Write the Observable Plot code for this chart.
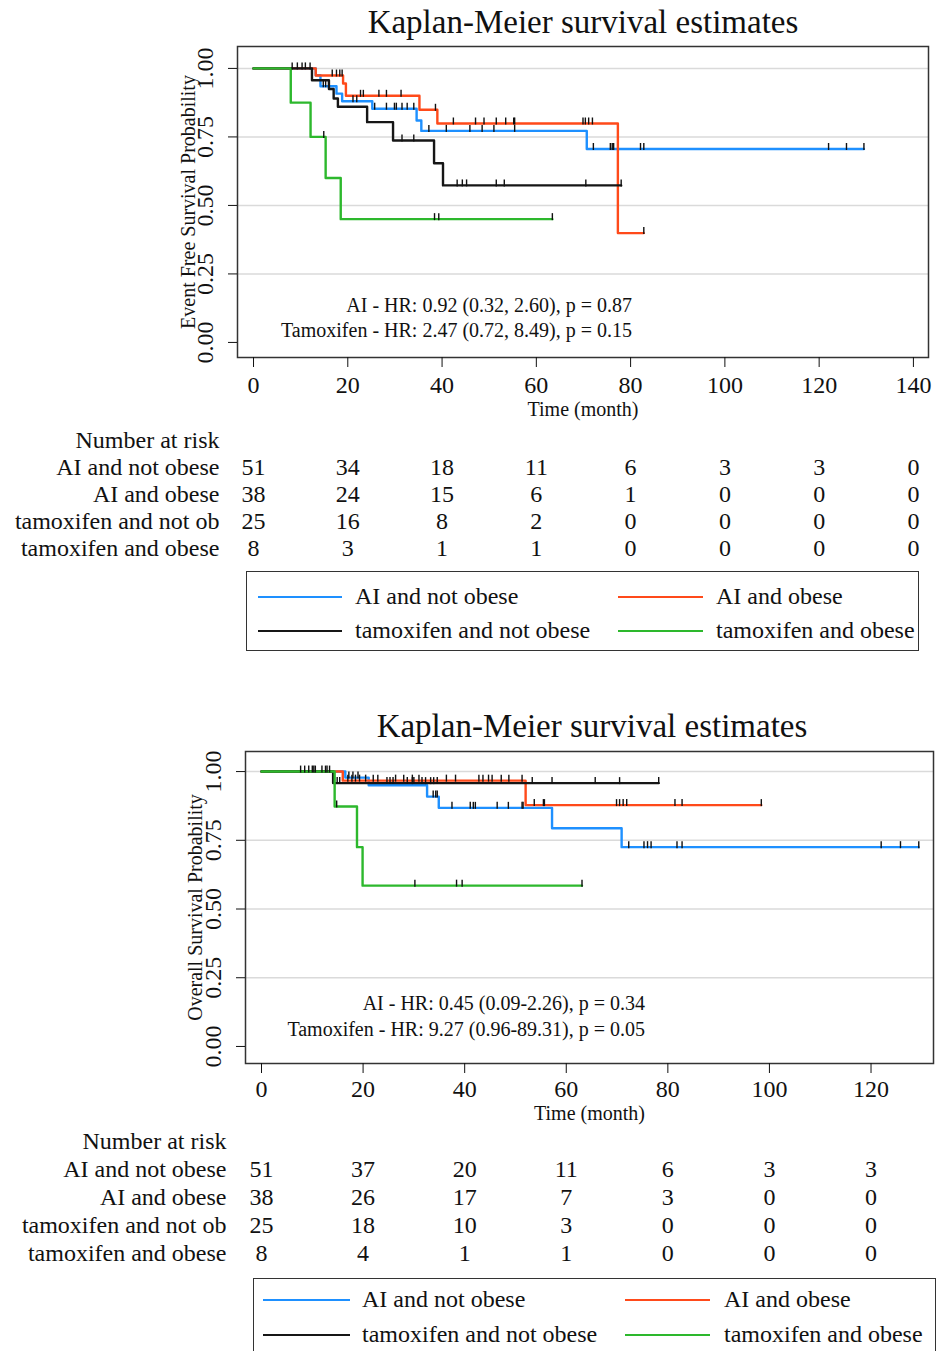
<!DOCTYPE html>
<html><head><meta charset="utf-8">
<script src="https://cdn.jsdelivr.net/npm/d3@7"></script>
<script src="https://cdn.jsdelivr.net/npm/@observablehq/plot@0.6"></script>
<style>
html,body{margin:0;padding:0;background:#fff;}
body{width:937px;height:1351px;overflow:hidden;position:relative;font-family:"Liberation Serif","Times New Roman",serif;color:#111;}
.title{position:absolute;font-size:33px;line-height:36px;text-align:center;white-space:nowrap;}
.note{position:absolute;font-size:20px;text-align:right;white-space:nowrap;}
.legend{position:absolute;border:1.5px solid #333;box-sizing:border-box;}
.legend .sw{position:absolute;height:0;border-top:2px solid;}
.legend .lb{position:absolute;font-size:24px;white-space:nowrap;line-height:28px;}
svg{position:absolute;}
</style></head><body>
<script>
// ---------------- data ----------------
const groups = ["AI and not obese", "AI and obese", "tamoxifen and not obese", "tamoxifen and obese"];
const riskLabels = ["AI and not obese", "AI and obese", "tamoxifen and not ob", "tamoxifen and obese"];
const colors = ["#1e90ff", "#ff4a1a", "#161616", "#2db82d"];

// Event free survival (top) — step times, survival values, end of follow-up, censor times
const efsBlueT = [0, 13.2, 14.2, 17.6, 18.8, 25.2, 34.6, 35.6, 70.7];
const efsBlueS = [1, 0.975, 0.935, 0.908, 0.880, 0.853, 0.810, 0.772, 0.706];
const efsBlueEnd = 129.5;
const efsBlueC = [14.8, 15.3, 21.1, 21.9, 25.7, 28.2, 29.9, 30.3, 31.5, 32.6, 34.0, 37.2, 40.9, 45.9, 48.5, 51.0, 55.4, 72.1, 75.7, 76.1, 76.4, 82.1, 82.8, 122.0, 125.8, 129.5];

const efsRedT = [0, 13.2, 19.0, 19.6, 35.2, 39.0, 77.3];
const efsRedS = [1, 0.974, 0.945, 0.900, 0.849, 0.799, 0.399];
const efsRedEnd = 82.8;
const efsRedC = [16.7, 17.6, 18.3, 18.8, 22.7, 23.3, 26.6, 28.2, 31.3, 38.6, 42.4, 47.1, 48.9, 51.5, 53.5, 55.2, 55.4, 69.9, 70.4, 71.1, 71.9, 82.8];

const efsBlackT = [0, 12.4, 16.0, 17.0, 17.9, 24.1, 29.6, 38.3, 40.2];
const efsBlackS = [1, 0.957, 0.925, 0.890, 0.860, 0.804, 0.737, 0.654, 0.573];
const efsBlackEnd = 78.0;
const efsBlackC = [8.2, 9.3, 10.3, 11.0, 12.0, 31.5, 34.0, 43.2, 44.3, 45.2, 51.5, 53.2, 70.5, 78.0];

const efsGreenT = [0, 7.9, 12.1, 15.3, 18.5];
const efsGreenS = [1, 0.875, 0.750, 0.600, 0.450];
const efsGreenEnd = 63.4;
const efsGreenC = [14.9, 38.4, 39.3, 63.4];

// Overall survival (bottom)
const osBlueT = [0, 16.5, 21.1, 32.6, 34.9, 57.2, 70.9];
const osBlueS = [1, 0.978, 0.950, 0.909, 0.868, 0.794, 0.725];
const osBlueEnd = 129.4;
const osBlueC = [17.2, 18.0, 19.0, 33.8, 34.3, 34.6, 37.5, 41.1, 41.7, 42.1, 46.4, 48.6, 51.3, 51.5, 72.3, 75.3, 76.0, 76.7, 81.8, 82.8, 122.0, 125.8, 129.4];

const osRedT = [0, 16.0, 52.0];
const osRedS = [1, 0.967, 0.878];
const osRedEnd = 98.4;
const osRedC = [17.0, 17.8, 18.5, 19.3, 20.5, 22.0, 22.9, 26.4, 28.0, 29.7, 31.0, 36.4, 38.2, 42.8, 43.6, 44.7, 45.4, 47.2, 48.7, 51.3, 53.7, 55.5, 55.7, 69.9, 70.5, 71.2, 71.9, 81.4, 82.8, 98.4];

const osBlackT = [0, 14.1];
const osBlackS = [1, 0.958];
const osBlackEnd = 78.2;
const osBlackC = [7.7, 8.5, 9.3, 10.0, 10.3, 10.6, 11.9, 12.6, 12.9, 13.4, 14.9, 15.4, 24.7, 25.3, 25.9, 28.7, 29.7, 30.0, 31.6, 32.3, 33.3, 33.9, 34.6, 53.3, 57.2, 65.7, 70.5, 78.2];

const osGreenT = [0, 14.4, 18.8, 19.9];
const osGreenS = [1, 0.873, 0.725, 0.585];
const osGreenEnd = 63.1;
const osGreenC = [14.8, 30.2, 38.4, 39.5, 63.1];

// Number at risk
const efsRiskTimes = [0, 20, 40, 60, 80, 100, 120, 140];
const efsRiskBlue = [51, 34, 18, 11, 6, 3, 3, 0];
const efsRiskRed = [38, 24, 15, 6, 1, 0, 0, 0];
const efsRiskBlack = [25, 16, 8, 2, 0, 0, 0, 0];
const efsRiskGreen = [8, 3, 1, 1, 0, 0, 0, 0];

const osRiskTimes = [0, 20, 40, 60, 80, 100, 120];
const osRiskBlue = [51, 37, 20, 11, 6, 3, 3];
const osRiskRed = [38, 26, 17, 7, 3, 0, 0];
const osRiskBlack = [25, 18, 10, 3, 0, 0, 0];
const osRiskGreen = [8, 4, 1, 1, 0, 0, 0];

const efsXTicks = [0, 20, 40, 60, 80, 100, 120, 140];
const osXTicks = [0, 20, 40, 60, 80, 100, 120];
const yTicks = [0, 0.25, 0.5, 0.75, 1];
const gridTicks = [0.25, 0.5, 0.75, 1];

// ---------------- helpers ----------------
function curve(T, S, end, group) {
  const pts = T.map((t, i) => ({t, s: S[i], group}));
  pts.push({t: end, s: S[S.length - 1], group});
  return pts;
}
function survAt(T, S, t) {
  let s = S[0];
  for (let i = 0; i < T.length; i++) if (T[i] <= t) s = S[i];
  return s;
}
function cens(T, S, C, group) { return C.map(t => ({t, s: survAt(T, S, t), group})); }

const censorSymbol = {
  draw(ctx) { ctx.moveTo(0, -6); ctx.lineTo(0, 1); }
};

const FONT = "Liberation Serif, Times New Roman, serif";

function survPlot(cfg) {
  const lineData = cfg.sets.flatMap(d => curve(d.T, d.S, d.end, d.g));
  const censData = cfg.sets.flatMap(d => cens(d.T, d.S, d.C, d.g));
  return Plot.plot({
    width: 937, height: cfg.height,
    marginLeft: cfg.ml, marginRight: cfg.mr, marginTop: cfg.mt, marginBottom: cfg.mb,
    style: {fontFamily: FONT, background: "transparent", color: "#111", overflow: "visible"},
    x: {domain: cfg.xdom},
    y: {domain: cfg.ydom},
    color: {domain: groups, range: colors},
    marks: [
      Plot.ruleY(gridTicks, {stroke: "#dadada", strokeWidth: 1.5}),
      Plot.line(lineData, {x: "t", y: "s", z: "group", stroke: "group", curve: "step-after", strokeWidth: 2.4}),
      Plot.dot(censData, {x: "t", y: "s", symbol: censorSymbol, stroke: "#111", strokeWidth: 1.4, fill: "none"}),
      Plot.frame({stroke: "#333", strokeWidth: 1.5}),
      Plot.axisX({ticks: cfg.xticks, tickSize: 10, tickPadding: cfg.tickPad, fontSize: 24, label: null, tickFormat: d => String(d)}),
      Plot.axisY({ticks: yTicks, tickSize: 9, tickFormat: () => "", label: null}),
      Plot.text(yTicks, {y: d => d, text: d => d.toFixed(2), frameAnchor: "left", dx: -32, rotate: -90, textAnchor: "middle", lineAnchor: "middle", fontSize: 24}),
      Plot.text([cfg.ylabel], {text: d => d, frameAnchor: "left", dx: cfg.ylabDx, rotate: -90, textAnchor: "middle", lineAnchor: "middle", fontSize: 20}),
      Plot.text(["Time (month)"], {text: d => d, frameAnchor: "bottom", dy: cfg.xlabDy, textAnchor: "middle", lineAnchor: "middle", fontSize: 20})
    ]
  });
}

function riskPlot(cfg) {
  const data = [];
  riskLabels.forEach((lab, i) => cfg.times.forEach((t, j) => data.push({t, row: lab, n: cfg.rows[i][j]})));
  return Plot.plot({
    width: 937, height: cfg.height,
    marginLeft: cfg.ml, marginRight: cfg.mr, marginTop: cfg.mt, marginBottom: cfg.mb,
    style: {fontFamily: FONT, background: "transparent", color: "#111", overflow: "visible"},
    x: {domain: cfg.xdom, axis: null},
    y: {type: "point", domain: ["Number at risk", ...riskLabels], padding: 0},
    marks: [
      Plot.axisY({tickSize: 0, tickPadding: cfg.pad, fontSize: 24, label: null}),
      Plot.text(data, {x: "t", y: "row", text: d => String(d.n), fontSize: 24, lineAnchor: "middle"})
    ]
  });
}

function put(el, left, top) { el.style.left = left + "px"; el.style.top = top + "px"; document.body.appendChild(el); return el; }
function div(cls, html) { const d = document.createElement("div"); d.className = cls; d.innerHTML = html; return d; }

function legend(left, top, w, h, rows, lineX, textX) {
  const box = div("legend", "");
  box.style.width = w + "px"; box.style.height = h + "px";
  const order = [[0, 1], [2, 3]];
  order.forEach((pair, r) => pair.forEach((gi, c) => {
    const sw = document.createElement("div");
    sw.className = "sw";
    sw.style.left = lineX[c][0] + "px"; sw.style.width = (lineX[c][1] - lineX[c][0]) + "px";
    sw.style.top = (rows[r] - 1) + "px"; sw.style.borderTopColor = colors[gi];
    box.appendChild(sw);
    const lb = document.createElement("div");
    lb.className = "lb"; lb.textContent = groups[gi];
    lb.style.left = textX[c] + "px"; lb.style.top = (rows[r] - 15) + "px";
    box.appendChild(lb);
  }));
  put(box, left, top);
}

// ---------------- top panel: event free survival ----------------
const t1 = div("title", "Kaplan-Meier survival estimates");
t1.style.width = "800px"; put(t1, 583 - 400, 4);

put(survPlot({
  height: 420, ml: 237, mr: 9, mt: 46, mb: 63,
  xdom: [-3.4, 143.2], ydom: [-0.055, 1.08], xticks: efsXTicks, tickPad: 8,
  ylabel: "Event Free Survival Probability", ylabDx: -49, xlabDy: 52,
  sets: [
    {T: efsBlueT, S: efsBlueS, end: efsBlueEnd, C: efsBlueC, g: groups[0]},
    {T: efsRedT, S: efsRedS, end: efsRedEnd, C: efsRedC, g: groups[1]},
    {T: efsBlackT, S: efsBlackS, end: efsBlackEnd, C: efsBlackC, g: groups[2]},
    {T: efsGreenT, S: efsGreenS, end: efsGreenEnd, C: efsGreenC, g: groups[3]}
  ]
}), 0, 0);

const n1 = div("note", "AI - HR: 0.92 (0.32, 2.60), p = 0.87<br>Tamoxifen - HR: 2.47 (0.72, 8.49), p = 0.15");
n1.style.lineHeight = "25px"; n1.style.width = "500px"; put(n1, 632 - 500, 293);

put(riskPlot({
  height: 148, ml: 237, mr: 9, mt: 18, mb: 19, pad: 18,
  xdom: [-3.4, 143.2], times: efsRiskTimes,
  rows: [efsRiskBlue, efsRiskRed, efsRiskBlack, efsRiskGreen]
}), 0, 420);

legend(246, 571, 673, 80, [25, 59], [[11, 95], [371, 456]], [108, 469]);

// ---------------- bottom panel: overall survival ----------------
const t2 = div("title", "Kaplan-Meier survival estimates");
t2.style.width = "800px"; put(t2, 592 - 400, 708);

put(survPlot({
  height: 420, ml: 245, mr: 4, mt: 51, mb: 57,
  xdom: [-3.15, 132.3], ydom: [-0.062, 1.073], xticks: osXTicks, tickPad: 6,
  ylabel: "Overall Survival Probability", ylabDx: -50, xlabDy: 50,
  sets: [
    {T: osBlueT, S: osBlueS, end: osBlueEnd, C: osBlueC, g: groups[0]},
    {T: osRedT, S: osRedS, end: osRedEnd, C: osRedC, g: groups[1]},
    {T: osBlackT, S: osBlackS, end: osBlackEnd, C: osBlackC, g: groups[2]},
    {T: osGreenT, S: osGreenS, end: osGreenEnd, C: osGreenC, g: groups[3]}
  ]
}), 0, 700);

const n2 = div("note", "AI - HR: 0.45 (0.09-2.26), p = 0.34<br>Tamoxifen - HR: 9.27 (0.96-89.31), p = 0.05");
n2.style.lineHeight = "26px"; n2.style.width = "500px"; put(n2, 645 - 500, 990);

put(riskPlot({
  height: 151, ml: 245, mr: 4, mt: 21, mb: 18, pad: 19,
  xdom: [-3.15, 132.3], times: osRiskTimes,
  rows: [osRiskBlue, osRiskRed, osRiskBlack, osRiskGreen]
}), 0, 1120);

legend(253, 1278, 683, 90, [21, 56], [[9, 96], [371, 456]], [108, 470]);
</script>
</body></html>
